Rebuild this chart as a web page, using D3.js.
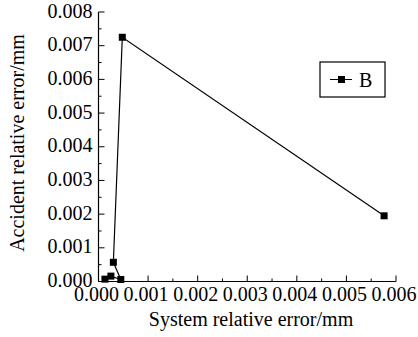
<!DOCTYPE html>
<html>
<head>
<meta charset="utf-8">
<script src="https://cdn.jsdelivr.net/npm/d3@7.9.0/dist/d3.min.js"></script>
<style>
  body { margin: 0; background: #fff; }
</style>
</head>
<body>
<svg id="chart" width="418" height="337"></svg>
<script>
// series B: system relative error vs accident relative error (mm)
const systemErr   = [0.00013, 0.00025, 0.00045, 0.00030, 0.00048, 0.00576];
const accidentErr = [0.00007, 0.00016, 0.00006, 0.00057, 0.00725, 0.00195];
const xTicks = [0, 0.001, 0.002, 0.003, 0.004, 0.005, 0.006];
const yTicks = [0, 0.001, 0.002, 0.003, 0.004, 0.005, 0.006, 0.007, 0.008];
const seriesName = 'B';

const svg = d3.select('#chart')
  .attr('font-family', "'Liberation Serif', 'DejaVu Serif', serif");
const mLeft = 98.5, mRight = 396, mTop = 12, mBottom = 281.5;

let x = d3.scaleLinear().domain([0, 0.006]).range([mLeft, mRight]);
let y = d3.scaleLinear().domain([0, 0.008]).range([mBottom, mTop]);

// minor tick positions halfway between majors
const xMinor = d3.range(0.0005, 0.006, 0.001);
const yMinor = d3.range(0.0005, 0.008, 0.001);

// x axis
let gx = svg.append('g').attr('transform', `translate(0,${mBottom})`);
gx.append('line').attr('x1', mLeft).attr('x2', mRight).attr('stroke', '#000').attr('stroke-width', 1.2);
gx.selectAll('.maj').data(xTicks).join('line')
  .attr('x1', d => x(d)).attr('x2', d => x(d)).attr('y1', 0).attr('y2', -6)
  .attr('stroke', '#000');
gx.selectAll('.min').data(xMinor).join('line')
  .attr('x1', d => x(d)).attr('x2', d => x(d)).attr('y1', 0).attr('y2', -3)
  .attr('stroke', '#000');
gx.selectAll('text').data(xTicks).join('text')
  .attr('x', d => x(d) - 2).attr('y', 19.5)
  .attr('text-anchor', 'middle').attr('font-size', 20)
  .text(d => d3.format('.3f')(d));

// y axis
let gy = svg.append('g').attr('transform', `translate(${mLeft},0)`);
gy.append('line').attr('y1', mTop).attr('y2', mBottom).attr('stroke', '#000').attr('stroke-width', 1.2);
gy.selectAll('.maj').data(yTicks).join('line')
  .attr('y1', d => y(d)).attr('y2', d => y(d)).attr('x1', 0).attr('x2', 6)
  .attr('stroke', '#000');
gy.selectAll('.min').data(yMinor).join('line')
  .attr('y1', d => y(d)).attr('y2', d => y(d)).attr('x1', 0).attr('x2', 3)
  .attr('stroke', '#000');
gy.selectAll('text').data(yTicks).join('text')
  .attr('x', -6).attr('y', d => y(d) + 5.5)
  .attr('text-anchor', 'end').attr('font-size', 20)
  .text(d => d3.format('.3f')(d));

// axis titles
svg.append('text').attr('x', 251).attr('y', 326)
  .attr('text-anchor', 'middle').attr('font-size', 20)
  .text('System relative error/mm');
svg.append('text').attr('transform', 'translate(24,143) rotate(-90)')
  .attr('text-anchor', 'middle').attr('font-size', 20)
  .text('Accident relative error/mm');

// line + square markers
const pts = systemErr.map((v, i) => [v, accidentErr[i]]);
let line = d3.line().x(d => x(d[0])).y(d => y(d[1]));
svg.append('path').attr('d', line(pts)).attr('fill', 'none').attr('stroke', '#000').attr('stroke-width', 1.2);
svg.selectAll('.pt').data(pts).join('rect')
  .attr('x', d => x(d[0]) - 3.5).attr('y', d => y(d[1]) - 3.5)
  .attr('width', 7).attr('height', 7).attr('fill', '#000');

// legend
let lg = svg.append('g').attr('transform', 'translate(320,62)');
lg.append('rect').attr('width', 65).attr('height', 35).attr('fill', 'none').attr('stroke', '#000').attr('stroke-width', 1.2);
lg.append('line').attr('x1', 10).attr('x2', 32).attr('y1', 17.5).attr('y2', 17.5).attr('stroke', '#000');
lg.append('rect').attr('x', 18).attr('y', 14).attr('width', 7).attr('height', 7).attr('fill', '#000');
lg.append('text').attr('x', 39).attr('y', 25).attr('font-size', 20).text(seriesName);
</script>
</body>
</html>
